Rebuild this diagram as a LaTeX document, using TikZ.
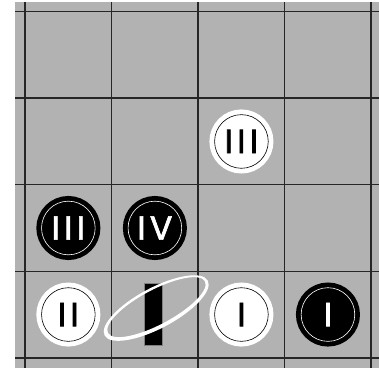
\documentclass[tikz,border=0pt]{standalone}
\usepackage{fontspec}
\newfontfamily\numfont[LetterSpace=13, FakeBold=2]{Poppins}
\usepackage{tikz}
\definecolor{boardgray}{gray}{0.70}

\begin{document}
\begin{tikzpicture}[
    gridline/.style={black!85, line width=1pt},
    whitestone/.style={circle, minimum size=1.24cm, inner sep=0pt, fill=white, draw=black, line width=0.4pt,
        preaction={draw=white, line width=0.24cm}, font=\numfont\fontsize{22}{22}\selectfont},
    blackstone/.style={circle, minimum size=1.24cm, inner sep=0pt, fill=black, draw=white, line width=0.4pt, text=white,
        preaction={draw=black, line width=0.24cm}, font=\numfont\fontsize{22}{22}\selectfont}]
                \useasboundingbox (-0.58,-0.23) rectangle (8.18,8.27);
                \fill[boardgray] (-0.23,-0.23) rectangle (8.18,8.23);
                \foreach \k in {0,2,4,6,8} {
                    \draw[gridline] (\k,-0.23) -- (\k,8.23);
                    \draw[gridline] (-0.23,\k) -- (8.18,\k);
                }
                % stones
                \node[whitestone] (W3c) at (5,5) {III};
                \node[blackstone] (B3c) at (1,3) {III};
                \node[blackstone] (B4c) at (3,3) {IV};
                \node[whitestone] (W2c) at (1,1) {II};
                \node[whitestone] (W1c) at (5,1) {I};
                \node[blackstone] (B1c) at (7,1) {I};
                % bar with ring
                \node[rectangle, fill=black, draw=gray, line width=0.3pt, minimum width=0.41cm, minimum height=1.43cm, inner sep=0pt] (Barc) at (2.955,1.01) {};
                \fill[white, even odd rule, rotate around={28:(3.03,1.15)}] (3.03,1.15) ellipse (1.35 and 0.47) (3.045,1.165) ellipse (1.27 and 0.40);
            \end{tikzpicture}
\end{document}
